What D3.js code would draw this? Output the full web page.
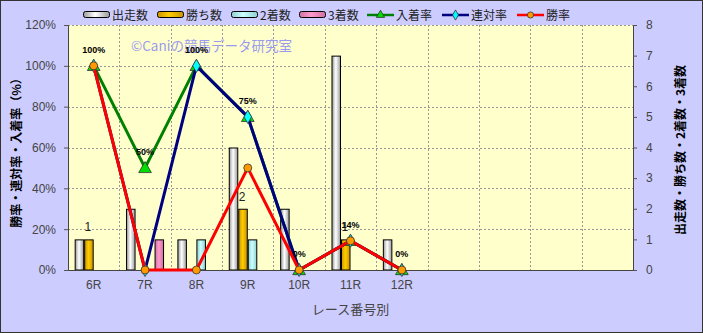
<!DOCTYPE html>
<html lang="ja">
<head>
<meta charset="UTF-8">
<title>race chart</title>
<script src="https://d3js.org/d3.v7.min.js"></script>
<style>
    body{margin:0;}
    svg{display:block;font-family:"Liberation Sans","Noto Sans CJK JP",sans-serif;}
    .jp{font-family:"Noto Sans CJK JP",sans-serif;}
    .tick text{font-size:12px;fill:#444;}
    .lbl{font-size:9px;font-weight:bold;fill:#000;}
</style>
</head>
<body>
<div id="fig"></div>
<script>
    // data
    let races = ["6R","7R","8R","9R","10R","11R","12R","","","",""]
    let starts  = [1,2,1,4,2,7,1]
    let wins    = [1,0,0,2,0,1,0]
    let seconds = [0,0,1,1,0,0,0]
    let thirds  = [0,1,0,0,0,0,0]
    let placeRate = [100,50,100,75,0,14.3,0]
    let top2Rate  = [100,0,100,75,0,14.3,0]
    let winRate   = [100,0,0,50,0,14.3,0]
    let rateTicks = [0,20,40,60,80,100,120]
    let countTicks = [0,1,2,3,4,5,6,7,8]

    let W = 703, H = 333
    let pL = 68, pR = 633, pT = 25, pB = 270

    let svg = d3.select("#fig").append("svg").attr("width",W).attr("height",H)
    let defs = svg.append("defs")

    function grad(id,edge,mid){
        let g = defs.append("linearGradient").attr("id",id).attr("x1","0").attr("x2","1").attr("y1","0").attr("y2","0")
        g.append("stop").attr("offset","0%").attr("stop-color",edge)
        g.append("stop").attr("offset","45%").attr("stop-color",mid)
        g.append("stop").attr("offset","100%").attr("stop-color",edge)
    }
    grad("g0","#9a9a9a","#ffffff")
    grad("g1","#c89400","#ffcc00")
    grad("g2","#8fd0d0","#ccffff")
    grad("g3","#d070a0","#ff99cc")

    svg.append("rect").attr("x",0.5).attr("y",0.5).attr("width",W-1).attr("height",H-1)
        .attr("fill","#ccccff").attr("stroke","#333").attr("stroke-width",1)
    svg.append("rect").attr("x",pL).attr("y",pT).attr("width",pR-pL).attr("height",pB-pT)
        .attr("fill","#ffffcc")

    let x = d3.scaleBand().domain(d3.range(races.length)).range([pL,pR])
    let bw = x.bandwidth()
    let series = ["starts","wins","seconds","thirds"]
    let xs = d3.scaleBand().domain(series).range([0.13*bw,0.87*bw])
    let yR = d3.scaleLinear().domain([0,120]).range([pB,pT])
    let yC = d3.scaleLinear().domain([0,8]).range([pB,pT])

    // grid
    let grid = svg.append("g").attr("stroke","#999").attr("stroke-dasharray","2,2").attr("stroke-width",1)
    d3.range(1,races.length).forEach(function(i){
        let gx = Math.round(x(i))+0.5
        grid.append("line").attr("x1",gx).attr("x2",gx).attr("y1",pT).attr("y2",pB)
    })
    rateTicks.slice(1).forEach(function(t){
        let gy = Math.round(yR(t))+0.5
        grid.append("line").attr("x1",pL).attr("x2",pR).attr("y1",gy).attr("y2",gy)
    })

    // watermark
    svg.append("text").attr("class","jp").attr("x",131).attr("y",51)
        .attr("font-size","13.5px").attr("fill","#9a9aee").text("©Caniの競馬データ研究室")

    // bars
    let barData = [starts,wins,seconds,thirds]
    let barG = svg.append("g")
    barData.forEach(function(vals,k){
        vals.forEach(function(v,i){
            if(v<=0) return
            barG.append("rect")
                .attr("x",x(i)+xs(series[k])+0.5)
                .attr("y",yC(v)+0.5)
                .attr("width",xs.bandwidth()-1)
                .attr("height",yC(0)-yC(v)-0.5)
                .attr("fill",`url(#g${k})`)
                .attr("stroke","#000").attr("stroke-width",1)
        })
    })

    // axes
    let axL = svg.append("g").attr("transform",`translate(${pL},0)`)
        .call(d3.axisLeft(yR).tickValues(rateTicks).tickSize(4).tickPadding(8).tickFormat(function(d){return d+"%"}))
    let axR = svg.append("g").attr("transform",`translate(${pR},0)`)
        .call(d3.axisRight(yC).tickValues(countTicks).tickSize(4).tickPadding(9))
    let axB = svg.append("g").attr("transform",`translate(0,${pB})`)
        .call(d3.axisBottom(x).tickSize(0).tickPadding(10).tickFormat(function(d){return races[d]}))
    ;[axL,axR,axB].forEach(function(a){
        a.selectAll("path,line").attr("stroke","#555")
        a.select(".domain").attr("stroke","#444")
    })

    // lines
    let cx = function(d,i){return x(i)+bw/2}
    let line = d3.line().x(cx).y(function(d){return yR(d)})
    function drawSeries(vals,color,marker,fill){
        let g = svg.append("g")
        g.append("path").datum(vals).attr("d",line).attr("fill","none")
            .attr("stroke",color).attr("stroke-width",3).attr("stroke-linejoin","round")
        vals.forEach(function(v,i){
            g.append("path")
                .attr("d",d3.symbol().type(marker).size(marker===d3.symbolTriangle?70:50)())
                .attr("transform",`translate(${cx(v,i)},${yR(v)+(marker===d3.symbolTriangle?1:0)})`)
                .attr("fill",fill).attr("stroke","#333").attr("stroke-width",0.8)
        })
    }
    drawSeries(placeRate,"#008000",d3.symbolTriangle,"#00dd00")
    drawSeries(top2Rate,"#000080",d3.symbolDiamond,"#00ffff")
    drawSeries(winRate,"#ff0000",d3.symbolCircle,"#ff9900")

    // data labels
    placeRate.forEach(function(v,i){
        svg.append("text").attr("class","lbl").attr("text-anchor","middle")
            .attr("x",cx(v,i)).attr("y",yR(v)-13).text(Math.round(v)+"%")
    })
    wins.forEach(function(v,i){
        if(v<=0) return
        svg.append("text").attr("text-anchor","middle").attr("font-size","12px").attr("fill","#222")
            .attr("x",x(i)+xs("wins")+xs.bandwidth()/2-1).attr("y",yC(v)-8).text(v)
    })

    // axis titles
    svg.append("text").attr("class","jp").attr("transform","translate(21,150) rotate(-90)")
        .attr("text-anchor","middle").attr("font-size","12px").attr("font-weight","bold").text("勝率・連対率・入着率（%）")
    svg.append("text").attr("class","jp").attr("transform","translate(685,150) rotate(-90)")
        .attr("text-anchor","middle").attr("font-size","12px").attr("font-weight","bold").text("出走数・勝ち数・2着数・3着数")
    svg.append("text").attr("class","jp").attr("x",(pL+pR)/2).attr("y",314)
        .attr("text-anchor","middle").attr("font-size","13px").attr("fill","#444").text("レース番号別")

    // legend
    let legendNames = ["出走数","勝ち数","2着数","3着数","入着率","連対率","勝率"]
    let legendX = [83,157,231,299,367,442,517]
    let lineStyles = [["#008000",d3.symbolTriangle,"#00dd00"],["#000080",d3.symbolDiamond,"#00ffff"],["#ff0000",d3.symbolCircle,"#ff9900"]]
    legendNames.forEach(function(name,k){
        let lx = legendX[k], ly = 15
        if(k<4){
            svg.append("rect").attr("x",lx+0.5).attr("y",ly-3.5).attr("width",26).attr("height",6).attr("rx",2)
                .attr("fill",`url(#g${k})`).attr("stroke","#000").attr("stroke-width",1)
        }else{
            let s = lineStyles[k-4]
            svg.append("line").attr("x1",lx).attr("x2",lx+27).attr("y1",ly).attr("y2",ly)
                .attr("stroke",s[0]).attr("stroke-width",2.5)
            svg.append("path").attr("d",d3.symbol().type(s[1]).size(30)())
                .attr("transform",`translate(${lx+13.5},${ly})`).attr("fill",s[2]).attr("stroke","#333").attr("stroke-width",0.8)
        }
        svg.append("text").attr("class","jp").attr("x",lx+29).attr("y",ly+4.5)
            .attr("font-size","12px").attr("fill","#222").text(name)
    })
</script>
</body>
</html>
